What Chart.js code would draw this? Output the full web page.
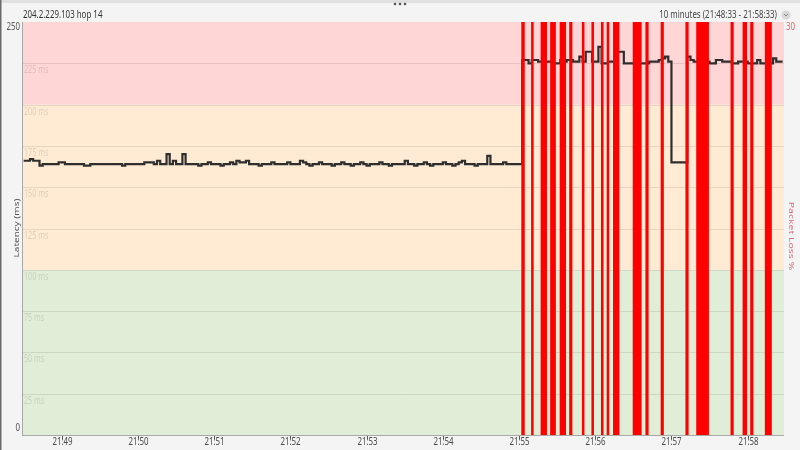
<!DOCTYPE html>
<html>
<head>
<meta charset="utf-8">
<script src="https://cdn.jsdelivr.net/npm/chart.js@4.4.1/dist/chart.umd.min.js"></script>
<style>
html,body{margin:0;padding:0;background:#f4f4f4}
canvas{display:block}
</style>
</head>
<body>
<canvas id="ch" width="800" height="450"></canvas>
<script>
const hopTitle = '204.2.229.103 hop 14'
const rangeTitle = '10 minutes (21:48:33 - 21:58:33)'
const yTitle = 'Latency (ms)'
const y2Title = 'Packet Loss %'

// x values are seconds after 21:48:00
const xMin = 29.5, xMax = 628.6
const xTickSecs = [60, 120, 180, 240, 300, 360, 420, 480, 540, 600]
const xTickLabels = ['21:49', '21:50', '21:51', '21:52', '21:53', '21:54', '21:55', '21:56', '21:57', '21:58']
const yTickVals = [25, 50, 75, 100, 125, 150, 175, 200, 225]
const bandEdges = [0, 100, 200, 250]

// latency (ms), one sample every 2.5 s from 21:48:30
const sampleStart = 30, sampleStep = 2.5
const latency = [
  166,166,167,166,166,163,164,164,164,164,164,165,165,164,164,164,164,164,164,163,163,164,164,164,
  164,164,164,164,164,164,164,163,164,164,164,164,164,164,165,165,165,164,166,164,164,170,164,166,
  164,164,170,164,164,164,164,163,164,164,165,164,164,164,163,164,164,165,164,166,165,165,166,164,
  164,164,163,164,164,164,165,164,164,164,164,165,164,164,164,166,165,164,163,164,164,165,164,164,
  164,163,164,164,165,164,164,163,164,164,165,164,163,164,164,164,165,164,164,163,164,164,164,164,
  166,164,164,163,164,164,165,164,163,164,164,164,165,164,164,163,164,165,166,164,164,164,163,164,
  164,164,169,164,164,164,164,165,164,164,164,164,164,227,227,225,227,227,226,226,226,226,226,225,
  225,227,226,227,227,226,226,229,226,232,232,226,226,235,225,225,226,226,227,232,232,225,225,225,
  225,225,225,225,225,226,226,226,227,228,229,226,165,165,165,165,165,229,227,226,226,226,226,226,
  225,225,227,227,226,226,226,225,225,226,226,226,225,225,225,227,225,225,225,225,228,226,226,226
]

// packet loss spans (seconds after 21:48:00) and loss %
const lossStart = [421.8, 429.5, 437, 444.5, 452, 459.5, 469.5, 477, 484.5, 489, 494, 509.5, 519.5, 531.5, 551, 559.5, 586.5, 596, 602, 613.5]
const lossEnd   = [424.5, 431.5, 442, 449, 457, 462, 471.5, 479, 486.5, 491, 499, 516.5, 522, 534, 553.5, 569.5, 589, 599.5, 604.5, 619]
const lossPct   = [100, 100, 100, 100, 100, 100, 100, 100, 100, 100, 100, 100, 100, 100, 100, 100, 100, 100, 100, 100]

const latPts = latency.map((v, i) => ({ x: sampleStart + i * sampleStep, y: v }))
const lossPts = [{ x: xMin, y: 0 }]
lossStart.forEach((s, i) => { lossPts.push({ x: s, y: lossPct[i] }, { x: lossEnd[i], y: 0 }) })
lossPts.push({ x: xMax, y: 0 })

const FONT = '"Noto Sans", sans-serif'
function squeeze(ctx, txt, x, y, size, color, align, base){
  ctx.save()
  ctx.font = size + 'px ' + FONT; ctx.fillStyle = color
  ctx.textAlign = align || 'left'; ctx.textBaseline = base || 'middle'
  ctx.translate(x, y); ctx.scale(0.72, 1); ctx.fillText(txt, 0, 0)
  ctx.restore()
}
function rotated(ctx, txt, x, y, size, color, ang){
  ctx.save()
  ctx.font = size + 'px ' + FONT; ctx.fillStyle = color
  ctx.textAlign = 'center'; ctx.textBaseline = 'middle'
  ctx.translate(x, y); ctx.rotate(ang); ctx.scale(1, 0.72); ctx.fillText(txt, 0, 0)
  ctx.restore()
}

const decor = {
  id: 'decor',
  beforeDraw(c){
    const { ctx, chartArea: a, scales: { y } } = c
    ctx.save()
    ctx.fillStyle = '#f4f4f4'; ctx.fillRect(0, 0, c.width, c.height)
    ctx.fillStyle = '#e0e0e0'; ctx.fillRect(0, 0, c.width, 3)
    ctx.fillStyle = '#6a6a6a'; ctx.fillRect(0, 0, 1.5, c.height)
    ctx.fillStyle = '#555'
    ;[395, 400, 405].forEach(px => { ctx.beginPath(); ctx.arc(px, 4, 1.3, 0, Math.PI * 2); ctx.fill() })
    const bandCols = ['#e1eed7', '#ffebd3', '#ffd6d6']
    for(let i = 0; i < bandEdges.length - 1; i++){
      const top = y.getPixelForValue(bandEdges[i + 1]), bot = y.getPixelForValue(bandEdges[i])
      ctx.fillStyle = bandCols[i]; ctx.fillRect(a.left, top, a.right - a.left, bot - top)
    }
    ctx.strokeStyle = 'rgba(0,0,0,0.09)'; ctx.lineWidth = 1
    yTickVals.forEach(v => {
      const py = Math.round(y.getPixelForValue(v)) + 0.5
      ctx.beginPath(); ctx.moveTo(a.left, py); ctx.lineTo(a.right, py); ctx.stroke()
      squeeze(ctx, v + ' ms', a.left + 1, py + 2, 10, 'rgba(0,0,0,0.13)', 'left', 'top')
    })
    ctx.restore()
  },
  afterDatasetsDraw(c){
    const { ctx, chartArea: a, scales: { x } } = c
    ctx.save()
    ctx.fillStyle = '#a8a8a8'
    ctx.fillRect(a.left - 1, a.top, 1, a.bottom - a.top + 1)
    ctx.fillRect(a.left - 1, a.bottom, a.right - a.left + 1, 1)
    xTickSecs.forEach((s, i) => {
      const px = Math.round(x.getPixelForValue(s))
      ctx.fillStyle = '#555'; ctx.fillRect(px, a.bottom + 1, 1, 3)
      squeeze(ctx, xTickLabels[i], px + 0.5, a.bottom + 7, 11, '#4a4a4a', 'center', 'middle')
    })
    ctx.restore()
  },
  afterDraw(c){
    const { ctx, chartArea: a } = c
    squeeze(ctx, hopTitle, a.left, 15, 11, '#333', 'left', 'middle')
    squeeze(ctx, rangeTitle, 777, 15, 11, '#444', 'right', 'middle')
    ctx.save()
    ctx.fillStyle = '#d8d8d8'; ctx.beginPath(); ctx.arc(786, 15, 4.5, 0, Math.PI * 2); ctx.fill()
    ctx.strokeStyle = '#888'; ctx.lineWidth = 1
    ctx.beginPath(); ctx.moveTo(784, 14); ctx.lineTo(786, 16); ctx.lineTo(788, 14); ctx.stroke()
    ctx.restore()
    squeeze(ctx, '250', 20, 21, 11, '#555', 'right', 'top')
    squeeze(ctx, '0', 20, 433, 11, '#555', 'right', 'bottom')
    squeeze(ctx, '30', 786, 21, 11, '#e06a6a', 'left', 'top')
    rotated(ctx, yTitle, 17, 228, 10, '#555', -Math.PI / 2)
    rotated(ctx, y2Title, 791, 236, 10.5, '#d6707c', Math.PI / 2)
  }
}

new Chart(document.getElementById('ch'), {
  type: 'line',
  data: {
    datasets: [
      { label: 'Packet loss', data: lossPts, yAxisID: 'y2', stepped: true, fill: 'origin',
        backgroundColor: '#ff0000', borderColor: 'rgba(0,0,0,0)', borderWidth: 0, pointRadius: 0, clip: 0 },
      { label: 'Latency', data: latPts, yAxisID: 'y', stepped: true, fill: false,
        borderColor: '#2e2e2e', borderWidth: 2.2, pointRadius: 0 }
    ]
  },
  options: {
    responsive: false, animation: false, devicePixelRatio: 1, events: [],
    layout: { padding: { left: 23, top: 22, right: 16, bottom: 15 } },
    plugins: { legend: { display: false }, tooltip: { enabled: false } },
    scales: {
      x: { type: 'linear', min: xMin, max: xMax, display: false },
      y: { min: 0, max: 250, display: false },
      y2: { min: 0, max: 30, display: false, position: 'right' }
    }
  },
  plugins: [decor]
})
</script>
</body>
</html>
